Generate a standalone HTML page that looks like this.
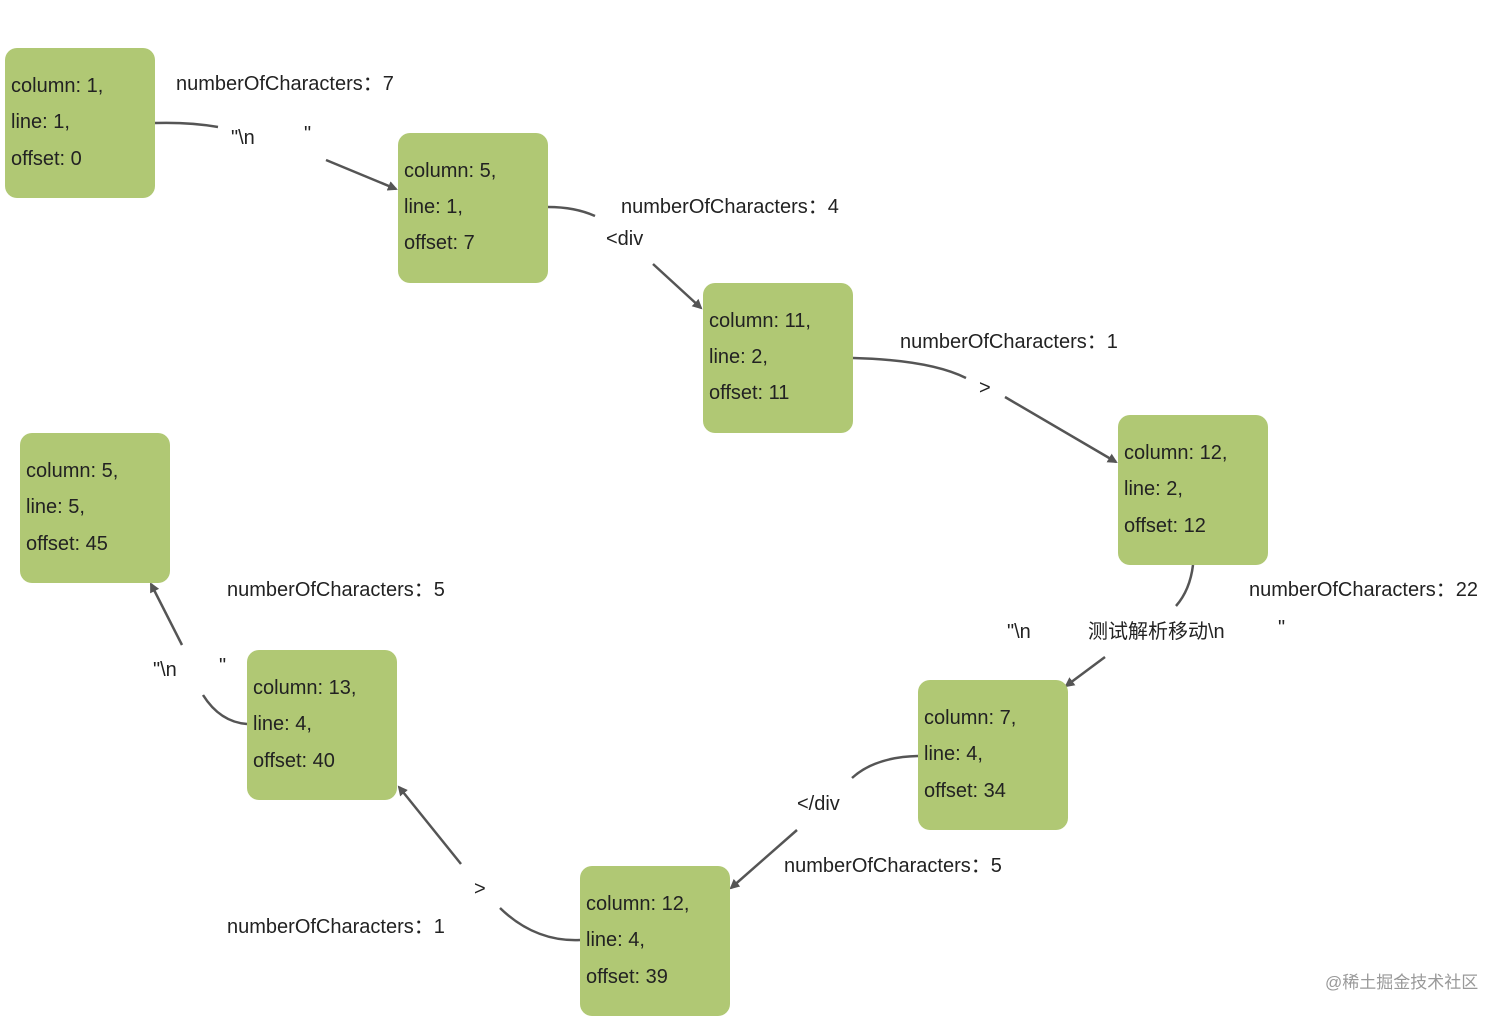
<!DOCTYPE html>
<html><head><meta charset="utf-8"><style>
body{margin:0;width:1512px;height:1019px;background:#fff;position:relative;overflow:hidden;font-family:"Liberation Sans","Noto Sans CJK SC",sans-serif;color:#222}
.n{position:absolute;width:150px;height:150px;background:#b0c874;border-radius:12px}
.t{position:absolute;font-size:20px;line-height:24px;white-space:pre;transform:translateY(-12px)}
svg{position:absolute;left:0;top:0}
</style></head><body>
<svg width="1512" height="1019">
<defs><marker id="a" markerWidth="10" markerHeight="10" refX="8" refY="5" orient="auto" markerUnits="userSpaceOnUse" viewBox="0 0 10 10"><path d="M0,0 L10,5 L0,10 z" fill="#555"/></marker></defs>
<g fill="none" stroke="#555" stroke-width="2.5">
<path d="M155,123 Q190,122 218,127"/><path d="M326,160 L396,189" marker-end="url(#a)" stroke-width="2.5"/>
<path d="M548,207 Q575,207 595,216"/><path d="M653,264 L701,308" marker-end="url(#a)"/>
<path d="M853,358 Q930,360 966,378"/><path d="M1005,397 L1116,462" marker-end="url(#a)"/>
<path d="M1193,565 Q1190,590 1176,606"/><path d="M1105,657 L1066,686" marker-end="url(#a)"/>
<path d="M918,756 Q875,757 852,778"/><path d="M797,830 L731,888" marker-end="url(#a)"/>
<path d="M580,940 Q535,942 500,908"/><path d="M461,864 L399,787" marker-end="url(#a)"/>
<path d="M247,724 Q220,722 203,695"/><path d="M182,645 L151,584" marker-end="url(#a)"/>
</g></svg>
<div class="n" style="left:5px;top:48px"></div>
<div class="n" style="left:398px;top:133px"></div>
<div class="n" style="left:703px;top:283px"></div>
<div class="n" style="left:1118px;top:415px"></div>
<div class="n" style="left:20px;top:433px"></div>
<div class="n" style="left:247px;top:650px"></div>
<div class="n" style="left:918px;top:680px"></div>
<div class="n" style="left:580px;top:866px"></div>

<div class="t" style="left:11px;top:86px">column: 1,</div>
<div class="t" style="left:11px;top:122px">line: 1,</div>
<div class="t" style="left:11px;top:159px">offset: 0</div>
<div class="t" style="left:404px;top:171px">column: 5,</div>
<div class="t" style="left:404px;top:207px">line: 1,</div>
<div class="t" style="left:404px;top:243px">offset: 7</div>
<div class="t" style="left:709px;top:321px">column: 11,</div>
<div class="t" style="left:709px;top:357px">line: 2,</div>
<div class="t" style="left:709px;top:393px">offset: 11</div>
<div class="t" style="left:1124px;top:453px">column: 12,</div>
<div class="t" style="left:1124px;top:489px">line: 2,</div>
<div class="t" style="left:1124px;top:526px">offset: 12</div>
<div class="t" style="left:26px;top:471px">column: 5,</div>
<div class="t" style="left:26px;top:507px">line: 5,</div>
<div class="t" style="left:26px;top:544px">offset: 45</div>
<div class="t" style="left:253px;top:688px">column: 13,</div>
<div class="t" style="left:253px;top:724px">line: 4,</div>
<div class="t" style="left:253px;top:761px">offset: 40</div>
<div class="t" style="left:924px;top:718px">column: 7,</div>
<div class="t" style="left:924px;top:754px">line: 4,</div>
<div class="t" style="left:924px;top:791px">offset: 34</div>
<div class="t" style="left:586px;top:904px">column: 12,</div>
<div class="t" style="left:586px;top:940px">line: 4,</div>
<div class="t" style="left:586px;top:977px">offset: 39</div>

<div class="t" style="left:176px;top:84px">numberOfCharacters：7</div>
<div class="t" style="left:231px;top:138px">"\n</div>
<div class="t" style="left:304px;top:134px">"</div>
<div class="t" style="left:621px;top:207px">numberOfCharacters：4</div>
<div class="t" style="left:606px;top:239px">&lt;div</div>
<div class="t" style="left:900px;top:342px">numberOfCharacters：1</div>
<div class="t" style="left:979px;top:388px">&gt;</div>
<div class="t" style="left:1249px;top:590px">numberOfCharacters：22</div>
<div class="t" style="left:1007px;top:632px">"\n</div>
<div class="t" style="left:1088px;top:632px">测试解析移动\n</div>
<div class="t" style="left:1278px;top:628px">"</div>
<div class="t" style="left:797px;top:804px">&lt;/div</div>
<div class="t" style="left:784px;top:866px">numberOfCharacters：5</div>
<div class="t" style="left:474px;top:889px">&gt;</div>
<div class="t" style="left:227px;top:927px">numberOfCharacters：1</div>
<div class="t" style="left:227px;top:590px">numberOfCharacters：5</div>
<div class="t" style="left:153px;top:670px">"\n</div>
<div class="t" style="left:219px;top:666px">"</div>
<div class="t" style="left:1325px;top:983px;font-size:17px;color:#999">@稀土掘金技术社区</div>
</body></html>
